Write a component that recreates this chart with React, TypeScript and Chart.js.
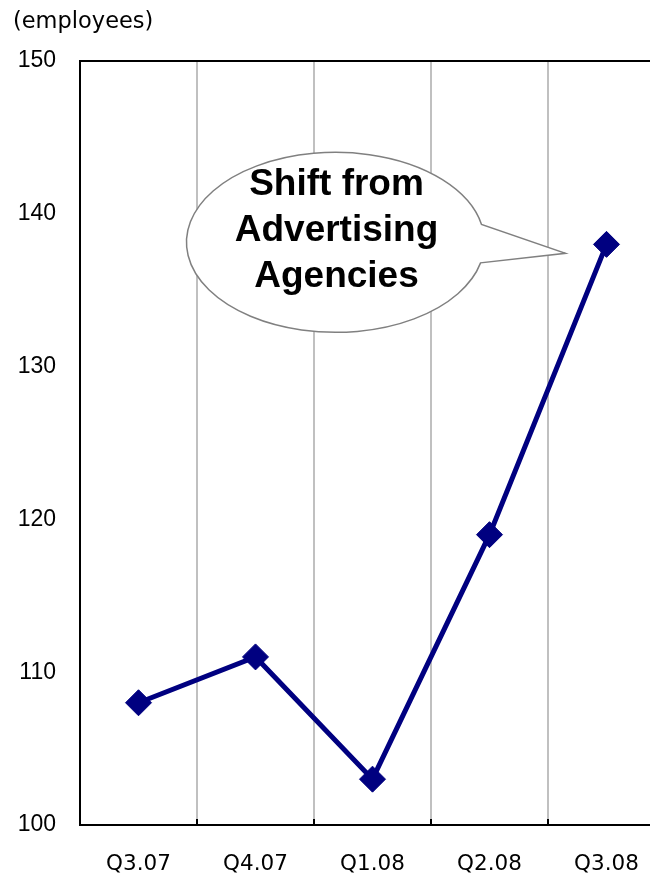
import React, { useEffect, useRef } from "react";
import { Chart, registerables } from "chart.js";

Chart.register(...registerables);

const categories = ["Q3.07", "Q4.07", "Q1.08", "Q2.08", "Q3.08"];
const employees = [108, 111, 103, 119, 138];
const yTicks = [100, 110, 120, 130, 140, 150];
const unitLabel = "(employees)";
const calloutLines = ["Shift from", "Advertising", "Agencies"];

const FONT = "'Liberation Sans', Arial, sans-serif";
const WIDE = "'DejaVu Sans', sans-serif";

const decorPlugin = {
  id: "decor",
  beforeDraw(chart: any) {
    const ctx = chart.ctx;
    ctx.save();
    ctx.fillStyle = "#ffffff";
    ctx.fillRect(0, 0, chart.width, chart.height);
    ctx.restore();
  },
  afterDraw(chart: any) {
    const ctx = chart.ctx;
    const area = chart.chartArea;
    const x = chart.scales.x;
    ctx.save();
    // unit label
    ctx.fillStyle = "#000";
    ctx.font = `22.5px ${WIDE}`;
    ctx.textBaseline = "middle";
    ctx.textAlign = "left";
    ctx.fillText(unitLabel, 13, 22);
    // top border
    ctx.strokeStyle = "#000";
    ctx.lineWidth = 2;
    ctx.beginPath();
    ctx.moveTo(area.left - 1, area.top);
    ctx.lineTo(area.right, area.top);
    ctx.stroke();
    // small x tick marks at category boundaries
    for (let i = 0; i < categories.length - 1; i++) {
      const bx = (x.getPixelForValue(i) + x.getPixelForValue(i + 1)) / 2;
      ctx.beginPath();
      ctx.moveTo(bx, area.bottom);
      ctx.lineTo(bx, area.bottom - 6);
      ctx.stroke();
    }
    ctx.restore();
  },
  afterDatasetsDraw(chart: any) {
    const ctx = chart.ctx;
    const y = chart.scales.y;
    const x = chart.scales.x;
    // callout anchored near the last point
    const tipX = x.getPixelForValue(categories.length - 1) - 41;
    const tipY = y.getPixelForValue(employees[employees.length - 1]) + 9;
    const cx = tipX - 230;
    const cy = tipY - 11;
    const rx = 149;
    const ry = 90;
    ctx.save();
    ctx.fillStyle = "#ffffff";
    ctx.strokeStyle = "#808080";
    ctx.lineWidth = 1.5;
    const a1 = -0.2;
    const a2 = 0.23;
    ctx.beginPath();
    ctx.ellipse(cx, cy, rx, ry, 0, a2, a1 + Math.PI * 2, false);
    ctx.lineTo(tipX, tipY);
    ctx.closePath();
    ctx.fill();
    ctx.stroke();
    ctx.fillStyle = "#000";
    ctx.font = `bold 37px ${FONT}`;
    ctx.textAlign = "center";
    ctx.textBaseline = "alphabetic";
    calloutLines.forEach((t, i) => {
      ctx.fillText(t, cx + 1, cy - 47 + i * 46);
    });
    ctx.restore();
  },
};

export default function App() {
  const ref = useRef<HTMLCanvasElement>(null);
  useEffect(() => {
    if (!ref.current) return;
    const chart = new Chart(ref.current, {
      type: "line",
      data: {
        labels: categories,
        datasets: [
          {
            data: employees,
            borderColor: "#000080",
            backgroundColor: "#000080",
            borderWidth: 5,
            pointStyle: "rectRot",
            pointRadius: 13,
            pointBorderWidth: 1,
            pointBackgroundColor: "#000080",
            pointBorderColor: "#000080",
            tension: 0,
          },
        ],
      },
      options: {
        animation: false,
        responsive: false,
        maintainAspectRatio: false,
        layout: { padding: { top: 61, right: 35, left: 0, bottom: 0 } },
        plugins: {
          legend: { display: false },
          tooltip: { enabled: false },
          title: { display: false },
        },
        scales: {
          x: {
            type: "category",
            offset: true,
            grid: {
              display: true,
              offset: true,
              color: "#c0c0c0",
              lineWidth: 2,
              drawTicks: false,
            },
            border: { display: true, color: "#000", width: 2 },
            ticks: {
              color: "#000",
              font: { family: WIDE, size: 21.5 },
              padding: 27,
              maxRotation: 0,
              autoSkip: false,
            },
            afterFit(scale: any) {
              scale.height = 51;
            },
          },
          y: {
            min: 100,
            max: 150,
            afterBuildTicks(scale: any) {
              scale.ticks = yTicks.map((v) => ({ value: v }));
            },
            grid: { display: false, drawTicks: false },
            border: { display: true, color: "#000", width: 2 },
            ticks: {
              color: "#000",
              font: { family: FONT, size: 23 },
              padding: 24,
            },
            afterFit(scale: any) {
              scale.width = 80;
            },
          },
        },
      },
      plugins: [decorPlugin],
    } as any);
    return () => chart.destroy();
  }, []);
  return (
    <div
      style={{
        position: "absolute",
        left: 0,
        top: 0,
        width: 650,
        height: 876,
        overflow: "hidden",
        background: "#fff",
      }}
    >
      <canvas ref={ref} width={700} height={876} style={{ display: "block" }} />
    </div>
  );
}
